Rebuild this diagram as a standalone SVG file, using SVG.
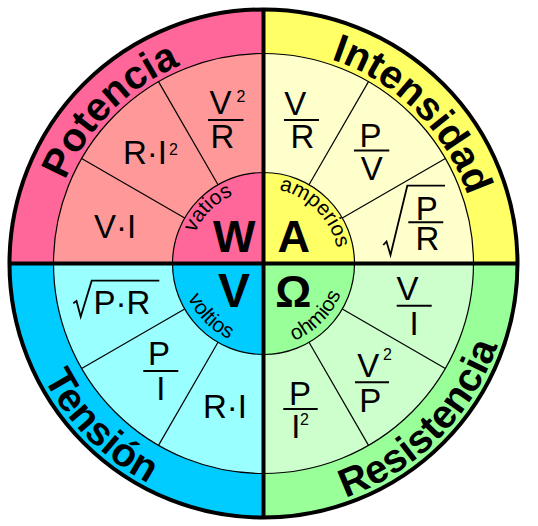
<svg xmlns="http://www.w3.org/2000/svg" width="538" height="526" viewBox="0 0 538 526">
<style>
.f{font-family:"Liberation Sans",Arial,sans-serif;font-size:33px;fill:#000}
.c{text-anchor:middle}
.sup{font-family:"Liberation Sans",Arial,sans-serif;font-size:16px;fill:#000}
.big{font-family:"Liberation Sans",Arial,sans-serif;font-weight:bold;fill:#000;text-anchor:middle}
.title{font-family:"Liberation Sans",Arial,sans-serif;font-weight:bold;font-size:40px;fill:#000}
.unit{font-family:"Liberation Sans",Arial,sans-serif;font-size:21px;fill:#000}
.bar{stroke:#000;stroke-width:2}
.rad{fill:none;stroke:#000;stroke-width:1.8;stroke-linejoin:miter}
.thin{stroke:#000;stroke-width:1.2;fill:none}
</style>
<defs>
<path id="pPot" d="M48.5 263.5 A215 215 0 0 1 263.5 48.5"/>
<path id="pInt" d="M263.5 48.5 A215 215 0 0 1 478.5 263.5"/>
<path id="pTen" d="M15.5 263.5 A248 248 0 0 0 263.5 511.5"/>
<path id="pRes" d="M263.5 511.5 A248 248 0 0 0 511.5 263.5"/>
<path id="uW" d="M188.5 263.5 A75 75 0 0 1 263.5 188.5"/>
<path id="uA" d="M263.5 188.5 A75 75 0 0 1 338.5 263.5"/>
<path id="uV" d="M180.5 263.5 A83 83 0 0 0 263.5 346.5"/>
<path id="uO" d="M263.5 346.5 A83 83 0 0 0 346.5 263.5"/>
</defs>

<g id="potencia">
<path d="M263.5 263.5 L9.5 263.5 A254 254 0 0 1 263.5 9.5 Z" fill="#FF6699"/>
<path d="M263.5 263.5 L53.5 263.5 A210 210 0 0 1 263.5 53.5 Z" fill="#FF9999"/>
<path d="M263.5 263.5 L172.5 263.5 A91 91 0 0 1 263.5 172.5 Z" fill="#FF6699"/>
<text class="title"><textPath href="#pPot" startOffset="50%" text-anchor="middle">Potencia</textPath></text>
<text class="unit"><textPath href="#uW" startOffset="50%" text-anchor="middle">vatios</textPath></text>
<text class="big" x="234.3" y="251.7" font-size="45">W</text>
<text class="f c" x="115" y="237.5">V·I</text>
<text class="f" x="123" y="163.5">R·I<tspan class="sup" dx="2" dy="-8.5">2</tspan></text>
<text class="f c"><tspan x="220.5" y="113.5">V</tspan><tspan class="sup" x="241" y="101.5">2</tspan><tspan x="222.5" y="148.3">R</tspan></text>
<line class="bar" x1="208" y1="120" x2="243.5" y2="120"/>
</g>

<g id="intensidad">
<path d="M263.5 263.5 L263.5 9.5 A254 254 0 0 1 517.5 263.5 Z" fill="#FFFF66"/>
<path d="M263.5 263.5 L263.5 53.5 A210 210 0 0 1 473.5 263.5 Z" fill="#FFFFCC"/>
<path d="M263.5 263.5 L263.5 172.5 A91 91 0 0 1 354.5 263.5 Z" fill="#FFFF66"/>
<text class="title"><textPath href="#pInt" startOffset="50%" text-anchor="middle">Intensidad</textPath></text>
<text class="unit"><textPath href="#uA" startOffset="50%" text-anchor="middle">amperios</textPath></text>
<text class="big" x="293.7" y="251.7" font-size="45">A</text>
<text class="f c"><tspan x="295.3" y="114.5">V</tspan><tspan x="302.5" y="148.3">R</tspan></text>
<line class="bar" x1="284" y1="120" x2="319" y2="120"/>
<text class="f c"><tspan x="370.5" y="146.7">P</tspan><tspan x="371.7" y="180">V</tspan></text>
<line class="bar" x1="354" y1="150.5" x2="389.3" y2="150.5"/>
<path class="rad" d="M383.3 245 L386.5 241.5 L390.5 255 L407.3 185.7 L445 185.7"/>
<text class="f c"><tspan x="426.7" y="220">P</tspan><tspan x="427.5" y="250">R</tspan></text>
<line class="bar" x1="408.3" y1="222.3" x2="443.3" y2="222.3"/>
</g>

<g id="tension">
<path d="M263.5 263.5 L9.5 263.5 A254 254 0 0 0 263.5 517.5 Z" fill="#00CCFF"/>
<path d="M263.5 263.5 L53.5 263.5 A210 210 0 0 0 263.5 473.5 Z" fill="#99FFFF"/>
<path d="M263.5 263.5 L172.5 263.5 A91 91 0 0 0 263.5 354.5 Z" fill="#00CCFF"/>
<text class="title"><textPath href="#pTen" startOffset="50%" text-anchor="middle">Tensión</textPath></text>
<text class="unit"><textPath href="#uV" startOffset="50%" text-anchor="middle">voltios</textPath></text>
<text class="big" x="234" y="306.7" font-size="48">V</text>
<path class="rad" d="M73.3 303.3 L76.5 301 L80.7 316.7 L91.7 280.7 L159.3 280.7"/>
<text class="f" x="93.4" y="313.5">P·R</text>
<text class="f c"><tspan x="159" y="365">P</tspan><tspan x="160.8" y="400">I</tspan></text>
<line class="bar" x1="143.3" y1="371" x2="178.3" y2="371"/>
<text class="f c" x="225" y="418.3">R·I</text>
</g>

<g id="resistencia">
<path d="M263.5 263.5 L263.5 517.5 A254 254 0 0 0 517.5 263.5 Z" fill="#99FF99"/>
<path d="M263.5 263.5 L263.5 473.5 A210 210 0 0 0 473.5 263.5 Z" fill="#CCFFCC"/>
<path d="M263.5 263.5 L263.5 354.5 A91 91 0 0 0 354.5 263.5 Z" fill="#99FF99"/>
<text class="title"><textPath href="#pRes" startOffset="50%" text-anchor="middle">Resistencia</textPath></text>
<text class="unit"><textPath href="#uO" startOffset="50%" text-anchor="middle">ohmios</textPath></text>
<text class="big" x="293.3" y="306.7" font-size="45">Ω</text>
<text class="f c"><tspan x="407.5" y="300">V</tspan><tspan x="414.2" y="335">I</tspan></text>
<line class="bar" x1="396.7" y1="305.7" x2="431.7" y2="305.7"/>
<text class="f c"><tspan x="368.3" y="376.7">V</tspan><tspan class="sup" x="387.5" y="360">2</tspan><tspan x="370.3" y="411.7">P</tspan></text>
<line class="bar" x1="355" y1="382.3" x2="389" y2="382.3"/>
<text class="f c"><tspan x="300" y="405">P</tspan><tspan x="295.8" y="438.3">I</tspan><tspan class="sup" x="304.5" y="425">2</tspan></text>
<line class="bar" x1="283.3" y1="409" x2="317.7" y2="409"/>
</g>

<g id="connectors">
<circle class="thin" cx="263.5" cy="263.5" r="210"/>
<circle class="thin" cx="263.5" cy="263.5" r="91"/>
<g stroke="#000" stroke-width="1.2">
<line x1="342.31" y1="309" x2="445.37" y2="368.5"/>
<line x1="309" y1="342.31" x2="368.5" y2="445.37"/>
<line x1="218" y1="342.31" x2="158.5" y2="445.37"/>
<line x1="184.69" y1="309" x2="81.63" y2="368.5"/>
<line x1="184.69" y1="218" x2="81.63" y2="158.5"/>
<line x1="218" y1="184.69" x2="158.5" y2="81.63"/>
<line x1="309" y1="184.69" x2="368.5" y2="81.63"/>
<line x1="342.31" y1="218" x2="445.37" y2="158.5"/>
</g>
<g stroke="#000" stroke-width="4">
<line x1="263.5" y1="9.5" x2="263.5" y2="517.5"/>
<line x1="9.5" y1="263.5" x2="517.5" y2="263.5"/>
</g>
<circle cx="263.5" cy="263.5" r="254" fill="none" stroke="#000" stroke-width="4"/>
</g>
</svg>
